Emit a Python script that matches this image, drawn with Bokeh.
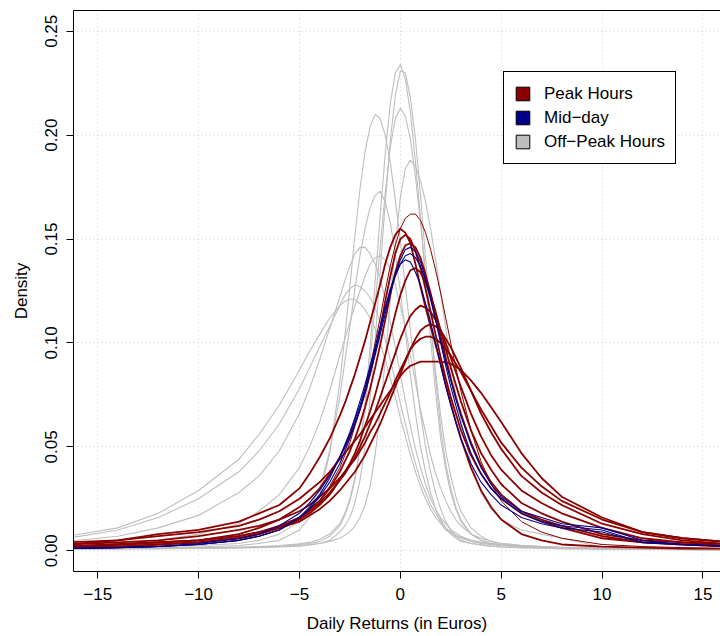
from bokeh.plotting import figure
from bokeh.models import (Range1d, FixedTicker, PrintfTickFormatter, LinearAxis,
                          Legend, LegendItem, ColumnDataSource)
from bokeh.embed import file_html
from bokeh.resources import INLINE

# common evaluation grid (daily return, euros)
x_grid = [-16.5, -14, -12, -10, -8, -7, -6, -5, -4.5, -4, -3.5, -3,
          -2.75, -2.5, -2.25, -2, -1.75, -1.5, -1.25, -1, -0.75, -0.5, -0.25, 0,
          0.25, 0.5, 0.75, 1, 1.25, 1.5, 1.75, 2, 2.25, 2.5, 2.75, 3,
          3.5, 4, 4.5, 5, 6, 7, 8, 10, 12, 14, 16.5]

# Off-peak hours densities
off_peak_1 = [.001, .001, .0012, .0013, .0015, .0017, .002, .003, .0035, .0045,
              .007, .012, .017, .024, .034, .050, .071, .098, .129, .161,
              .191, .215, .230, .234, .227, .211, .187, .160, .130, .102,
              .076, .054, .039, .028, .020, .014, .008, .005, .0035, .0028,
              .002, .0016, .0013, .001, .0008, .0007, .0006]
off_peak_2 = [.001, .001, .001, .0011, .0013, .0015, .0018, .0022, .0028, .0035,
              .005, .009, .012, .016, .023, .034, .050, .073, .101, .134,
              .167, .197, .219, .231, .230, .218, .198, .171, .141, .111,
              .083, .059, .042, .030, .021, .015, .008, .005, .0035, .0028,
              .002, .0016, .0013, .001, .0008, .0007, .0006]
off_peak_3 = [.001, .001, .0012, .0014, .0018, .002, .0025, .0033, .004, .0055,
              .008, .013, .018, .025, .035, .049, .067, .091, .118, .146,
              .172, .194, .208, .213, .209, .198, .180, .158, .134, .109,
              .086, .065, .048, .036, .026, .019, .011, .007, .0045, .0035,
              .0025, .002, .0017, .0013, .001, .0008, .0006]
off_peak_4 = [.001, .0012, .0014, .0018, .0025, .0035, .005, .010, .016, .026,
              .047, .081, .103, .127, .152, .174, .192, .204, .210, .208,
              .200, .187, .169, .149, .127, .106, .085, .066, .050, .038,
              .028, .020, .014, .010, .007, .005, .0035, .0028, .0022, .0018,
              .0014, .0012, .001, .0008, .0006, .0005, .0004]
off_peak_5 = [.0008, .001, .001, .0012, .0015, .0017, .002, .0025, .003, .0035,
              .0045, .006, .0075, .009, .012, .016, .022, .031, .046, .066,
              .092, .120, .147, .170, .184, .188, .185, .178, .168, .155,
              .140, .124, .107, .091, .075, .063, .042, .028, .020, .015,
              .010, .008, .006, .0018, .0012, .001, .0008]
off_peak_6 = [.0012, .0015, .002, .0025, .0035, .005, .008, .014, .020, .030,
              .048, .074, .091, .108, .126, .142, .155, .165, .171, .173,
              .168, .158, .143, .125, .105, .085, .066, .050, .038, .028,
              .020, .015, .011, .008, .006, .0045, .0035, .0028, .0022, .0018,
              .0015, .0012, .001, .0008, .0007, .0006, .0005]
off_peak_7 = [.0045, .007, .011, .017, .028, .036, .048, .066, .078, .092,
              .107, .122, .130, .137, .143, .146, .146, .143, .138, .131,
              .121, .110, .098, .085, .072, .060, .049, .040, .032, .025,
              .020, .016, .013, .010, .0085, .007, .005, .004, .003, .0025,
              .002, .0018, .0015, .001, .0008, .0006, .0005]
off_peak_8 = [.0025, .0035, .005, .008, .013, .019, .027, .040, .050, .062,
              .077, .094, .102, .110, .118, .125, .132, .138, .141, .142,
              .140, .136, .128, .118, .107, .094, .081, .068, .057, .046,
              .037, .030, .024, .019, .015, .012, .008, .006, .0045, .0035,
              .0025, .002, .0015, .001, .0008, .0006, .0005]
off_peak_9 = [.006, .010, .016, .025, .038, .048, .061, .078, .088, .098,
              .108, .118, .123, .126, .128, .127, .125, .122, .117, .110,
              .102, .092, .082, .071, .061, .051, .042, .034, .028, .022,
              .018, .014, .011, .009, .0075, .0065, .005, .004, .0035, .003,
              .0025, .002, .0015, .001, .0008, .0006, .0005]
off_peak_10 = [.007, .011, .018, .029, .044, .056, .070, .087, .096, .104,
               .112, .118, .120, .121, .121, .119, .116, .112, .107, .100,
               .092, .083, .074, .064, .055, .046, .038, .031, .025, .020,
               .016, .013, .010, .0085, .007, .006, .0045, .0035, .003, .0025,
               .002, .0015, .0012, .001, .0008, .0006, .0005]

# Peak hours densities
peak_1 = [.001, .0015, .002, .003, .005, .007, .010, .015, .019, .024,
          .031, .040, .046, .052, .060, .068, .078, .088, .100, .112,
          .125, .137, .147, .155, .160, .162, .162, .159, .153, .145,
          .135, .124, .112, .100, .088, .077, .058, .043, .032, .024,
          .014, .009, .006, .003, .002, .0015, .001]
peak_2 = [.003, .005, .008, .010, .014, .018, .022, .030, .037, .045,
          .054, .065, .071, .078, .085, .093, .101, .110, .119, .128,
          .138, .146, .152, .155, .153, .148, .138, .127, .117, .108,
          .099, .090, .080, .071, .062, .054, .040, .029, .021, .015,
          .008, .005, .003, .002, .0015, .001, .001]
peak_3 = [.002, .003, .004, .005, .008, .011, .015, .021, .025, .030,
          .037, .045, .050, .055, .061, .068, .076, .085, .096, .107,
          .120, .132, .143, .150, .152, .150, .144, .136, .126, .115,
          .104, .093, .083, .074, .066, .058, .046, .037, .030, .025,
          .018, .014, .011, .006, .004, .003, .002]
peak_4 = [.0015, .002, .003, .004, .006, .008, .011, .016, .020, .024,
          .030, .038, .043, .048, .054, .061, .069, .078, .088, .099,
          .111, .123, .134, .142, .147, .148, .146, .141, .133, .124,
          .114, .103, .093, .083, .074, .066, .052, .041, .033, .027,
          .019, .015, .012, .007, .004, .003, .002]
peak_5 = [.0015, .002, .003, .004, .006, .008, .011, .015, .018, .022,
          .027, .034, .038, .042, .047, .053, .060, .067, .075, .084,
          .094, .104, .114, .123, .130, .135, .136, .134, .129, .123,
          .115, .106, .097, .088, .080, .072, .058, .047, .039, .032,
          .023, .018, .014, .008, .005, .004, .002]
peak_6 = [.002, .003, .004, .005, .007, .009, .012, .016, .019, .023,
          .028, .034, .037, .041, .045, .050, .055, .061, .067, .074,
          .081, .088, .095, .102, .108, .113, .116, .118, .117, .115,
          .111, .106, .100, .093, .086, .079, .066, .055, .046, .039,
          .029, .023, .018, .011, .006, .004, .003]
peak_7 = [.002, .003, .004, .005, .007, .009, .011, .014, .017, .020,
          .024, .029, .032, .035, .038, .042, .046, .051, .056, .061,
          .067, .073, .079, .085, .091, .097, .102, .106, .108, .109,
          .108, .106, .102, .098, .093, .088, .077, .066, .057, .049,
          .036, .028, .022, .013, .008, .005, .003]
peak_8 = [.003, .004, .005, .007, .010, .012, .015, .019, .022, .026,
          .030, .035, .038, .041, .044, .048, .052, .057, .061, .066,
          .071, .076, .082, .087, .092, .097, .100, .102, .103, .103,
          .102, .100, .097, .094, .090, .086, .077, .068, .060, .052,
          .040, .031, .024, .015, .009, .006, .004]
peak_9 = [.004, .005, .007, .009, .012, .015, .019, .025, .029, .033,
          .038, .044, .047, .050, .053, .056, .0595, .063, .0665, .070,
          .0735, .077, .0805, .084, .087, .089, .090, .091, .091, .091,
          .091, .091, .0905, .090, .0885, .087, .082, .076, .069, .062,
          .047, .035, .026, .016, .009, .006, .004]

# Mid-day densities
midday_1 = [.001, .0015, .002, .003, .005, .007, .010, .016, .020, .026,
            .033, .042, .048, .054, .061, .068, .076, .085, .094, .104,
            .114, .124, .133, .140, .145, .146, .144, .139, .131, .122,
            .111, .100, .089, .079, .070, .061, .047, .037, .030, .025,
            .018, .014, .012, .010, .004, .003, .002]
midday_2 = [.001, .0015, .002, .003, .005, .007, .010, .016, .021, .027,
            .035, .045, .051, .057, .064, .072, .080, .089, .098, .108,
            .117, .126, .133, .138, .140, .139, .134, .128, .119, .110,
            .100, .089, .079, .070, .062, .054, .042, .033, .027, .022,
            .016, .013, .011, .009, .004, .003, .002]
midday_3 = [.0012, .0015, .002, .0035, .006, .008, .012, .018, .023, .029,
            .036, .045, .050, .056, .063, .070, .078, .087, .096, .106,
            .116, .125, .132, .138, .142, .143, .141, .137, .130, .121,
            .111, .101, .091, .082, .073, .065, .051, .040, .032, .026,
            .019, .016, .013, .011, .005, .003, .002]

off_peak = [off_peak_1, off_peak_2, off_peak_3, off_peak_4, off_peak_5,
            off_peak_6, off_peak_7, off_peak_8, off_peak_9, off_peak_10]
peak = [peak_1, peak_2, peak_3, peak_4, peak_5, peak_6, peak_7, peak_8, peak_9]
peak_widths = [1.0, 1.8, 1.8, 1.8, 1.8, 1.8, 1.8, 1.8, 1.8]
midday = [midday_1, midday_2, midday_3]

x_ticks = [-15, -10, -5, 0, 5, 10, 15]
x_tick_labels = {-15: "\u221215", -10: "\u221210", -5: "\u22125", 0: "0", 5: "5", 10: "10", 15: "15"}
y_ticks = [0, 0.05, 0.10, 0.15, 0.20, 0.25]
legend_labels = ["Peak Hours", "Mid\u2212day", "Off\u2212Peak Hours"]

GRAY = "#BEBEBE"
RED = "#8B0000"
BLUE = "#00008B"
FONT = "Liberation Sans"

p = figure(width=720, height=636, x_range=Range1d(-16.2, 15.87), y_range=Range1d(-0.01, 0.26),
           output_backend="svg", toolbar_location=None,
           min_border_left=73, min_border_right=0, min_border_top=10, min_border_bottom=65,
           x_axis_label="Daily Returns (in Euros)", y_axis_label="Density")
p.outline_line_color = None
p.background_fill_color = "white"
p.border_fill_color = "white"


def draw(ys, color, width):
    src = ColumnDataSource(dict(x=x_grid, y=ys))
    return p.line("x", "y", source=src, line_color=color, line_width=width, line_join="round")


for ys in off_peak:
    draw(ys, GRAY, 1.1)
for ys, w in zip(peak, peak_widths):
    draw(ys, RED, w)
for ys in midday:
    draw(ys, BLUE, 1.1)

# axes
for ax in (p.xaxis[0], p.yaxis[0]):
    ax.axis_line_color = "black"
    ax.axis_line_width = 1
    ax.major_tick_line_color = "black"
    ax.major_tick_out = 7
    ax.major_tick_in = 0
    ax.minor_tick_line_color = None
    ax.major_label_text_font = FONT
    ax.major_label_text_font_size = "17px"
    ax.major_label_text_color = "black"
    ax.axis_label_text_font = FONT
    ax.axis_label_text_font_size = "17px"
    ax.axis_label_text_font_style = "normal"
    ax.axis_label_text_color = "black"

p.xaxis.ticker = FixedTicker(ticks=x_ticks)
p.xaxis.major_label_overrides = x_tick_labels
p.xaxis.major_label_standoff = 9
p.xaxis.axis_label_standoff = 11
p.yaxis.ticker = FixedTicker(ticks=y_ticks)
p.yaxis.formatter = PrintfTickFormatter(format="%.2f")
p.yaxis.major_label_orientation = "vertical"
p.yaxis.major_label_standoff = 9
p.yaxis.axis_label_standoff = 12

top = LinearAxis(ticker=FixedTicker(ticks=[]), axis_line_color="black", major_tick_line_color=None,
                 minor_tick_line_color=None, major_tick_out=0, major_tick_in=0, minor_tick_out=0,
                 major_label_standoff=0, major_label_text_font_size="0px")
p.add_layout(top, "above")

p.xgrid.ticker = FixedTicker(ticks=x_ticks)
p.ygrid.ticker = FixedTicker(ticks=y_ticks)
for g in (p.xgrid[0], p.ygrid[0]):
    g.grid_line_color = "#D3D3D3"
    g.grid_line_dash = "1 3"
    g.grid_line_width = 1

# legend (swatch renderers sit far outside the visible ranges)
dummies = []
for c in (RED, BLUE, GRAY):
    r = p.rect(x=[-100], y=[-100], width=1, height=0.01, fill_color=c, line_color="black", line_width=1)
    dummies.append(r)
legend = Legend(items=[LegendItem(label=l, renderers=[r]) for l, r in zip(legend_labels, dummies)],
                location=(430, 407), orientation="vertical",
                label_text_font=FONT, label_text_font_size="17px", label_text_color="black",
                glyph_width=17, glyph_height=17, label_height=23, label_standoff=13,
                spacing=1, padding=10, margin=0,
                border_line_color="black", border_line_width=1, border_line_alpha=1,
                background_fill_color="white", background_fill_alpha=1)
p.add_layout(legend, "center")

open("out.html", "w").write(file_html(p, INLINE))
